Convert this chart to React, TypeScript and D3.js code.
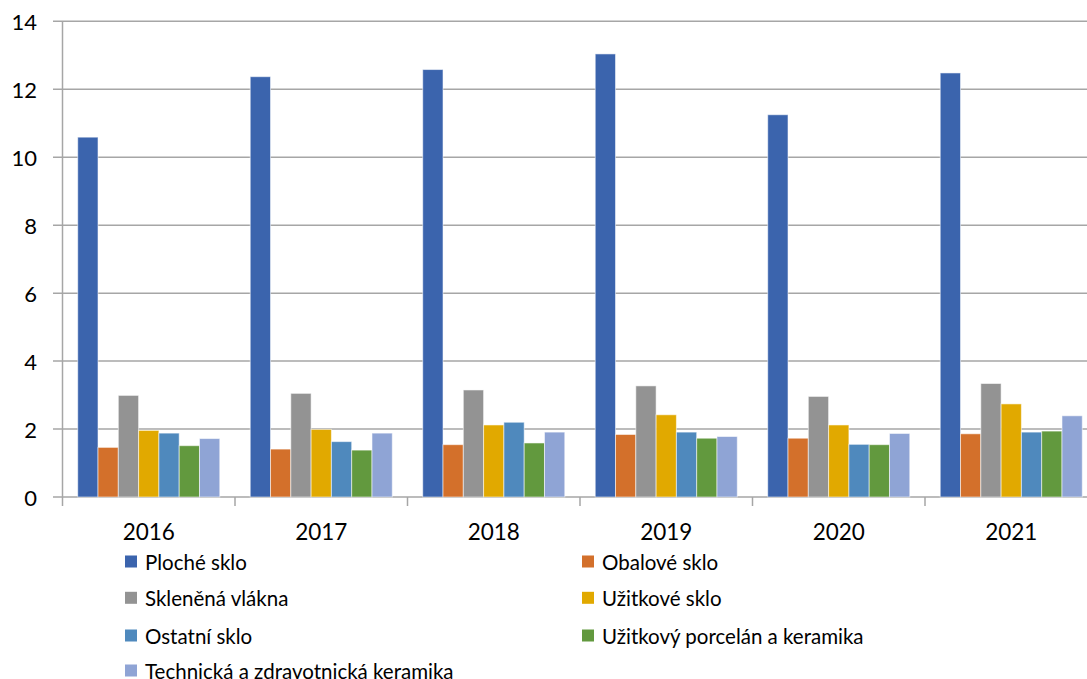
import React from "react";
import * as d3 from "d3";

const years = ["2016", "2017", "2018", "2019", "2020", "2021"];
const seriesNames = [
  "Ploché sklo",
  "Obalové sklo",
  "Skleněná vlákna",
  "Užitkové sklo",
  "Ostatní sklo",
  "Užitkový porcelán a keramika",
  "Technická a zdravotnická keramika",
];
const plocheSklo = [10.59, 12.37, 12.58, 13.04, 11.25, 12.48];
const obaloveSklo = [1.46, 1.41, 1.54, 1.84, 1.73, 1.86];
const sklenenaVlakna = [2.99, 3.05, 3.15, 3.27, 2.96, 3.34];
const uzitkoveSklo = [1.96, 1.99, 2.12, 2.42, 2.12, 2.74];
const ostatniSklo = [1.88, 1.63, 2.2, 1.91, 1.55, 1.91];
const porcelanKeramika = [1.51, 1.38, 1.59, 1.73, 1.54, 1.94];
const technickaKeramika = [1.72, 1.88, 1.91, 1.78, 1.87, 2.39];
const yTicks = [0, 2, 4, 6, 8, 10, 12, 14];

const seriesValues = [
  plocheSklo,
  obaloveSklo,
  sklenenaVlakna,
  uzitkoveSklo,
  ostatniSklo,
  porcelanKeramika,
  technickaKeramika,
];
const colors = ["#3B64AD", "#D3702B", "#939393", "#E1A900", "#4F89BD", "#62993E", "#8FA4D5"];

const W = 1087;
const H = 679;
const left = 62.5;
const right = 1097.5;
const top = 21.3;
const bottom = 497;
const FONT = "Lato, 'Open Sans', sans-serif";

export default function App() {
  const y = d3.scaleLinear().domain([0, 14]).range([bottom, top]);
  const x0 = d3.scaleBand<string>().domain(years).range([left, right]).padding(0);
  const x1 = d3
    .scaleBand<string>()
    .domain(seriesNames)
    .range([0, x0.bandwidth()])
    .paddingInner(0)
    .paddingOuter(0.75);

  const legendRows = [561.5, 597.8, 635.5, 670.5];
  const legendCols = [125, 582];

  return (
    <svg
      width={W}
      height={H}
      style={{ position: "absolute", left: 0, top: 0, background: "#fff" }}
      fontFamily={FONT}
    >
      {yTicks.map((t) => (
        <g key={t}>
          <line x1={53} x2={W} y1={y(t)} y2={y(t)} stroke="#A6A6A6" strokeWidth={1.5} />
          <text
            x={37}
            y={y(t)}
            textAnchor="end"
            dominantBaseline="central"
            fontSize={22}
            fill="#000"
          >
            {t}
          </text>
        </g>
      ))}
      <line x1={left} x2={left} y1={top} y2={bottom} stroke="#A6A6A6" strokeWidth={1.5} />
      {years.map((yr) => (
        <line
          key={"t" + yr}
          x1={x0(yr)!}
          x2={x0(yr)!}
          y1={bottom}
          y2={bottom + 9}
          stroke="#A6A6A6"
          strokeWidth={1.5}
        />
      ))}
      {seriesNames.map((s, si) =>
        years.map((yr, yi) => {
          const v = seriesValues[si][yi];
          const bx = x0(yr)! + x1(s)!;
          return (
            <rect
              key={s + yr}
              x={bx}
              y={y(v)}
              width={x1.bandwidth()}
              height={bottom - y(v)}
              fill={colors[si]}
              stroke="#ffffff"
              strokeOpacity={0.55}
              strokeWidth={1}
            />
          );
        })
      )}
      {years.map((yr) => (
        <text
          key={"l" + yr}
          x={x0(yr)! + x0.bandwidth() / 2}
          y={531}
          textAnchor="middle"
          dominantBaseline="central"
          fontSize={22.5}
          fill="#000"
        >
          {yr}
        </text>
      ))}
      {seriesNames.map((s, i) => {
        const row = Math.floor(i / 2);
        const col = i % 2;
        const lx = legendCols[col];
        const ly = legendRows[row];
        return (
          <g key={"lg" + s}>
            <rect x={lx} y={ly - 6} width={12} height={12} fill={colors[i]} />
            <text x={lx + 20} y={ly} dominantBaseline="central" fontSize={20.5} fill="#000">
              {s}
            </text>
          </g>
        );
      })}
    </svg>
  );
}
